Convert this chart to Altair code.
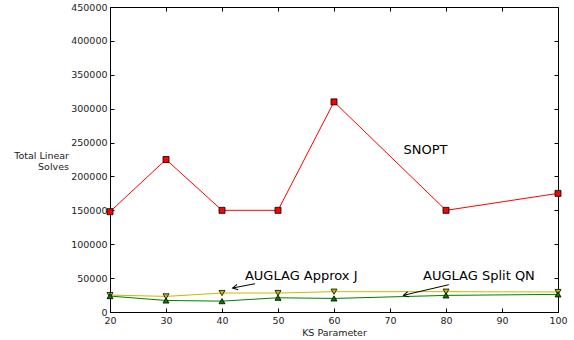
import math
import altair as alt
import pandas as pd

# ---- data ----
ks = [20, 30, 40, 50, 60, 80, 100]
snopt = [148000, 225000, 150000, 150000, 310000, 150000, 175000]
approx_j = [25000, 23000, 28000, 28000, 30000, 30000, 29500]
split_qn = [23500, 17000, 16000, 21000, 20000, 24500, 26000]

series_names = ["SNOPT", "AUGLAG Approx J", "AUGLAG Split QN"]
x_ticks = [20, 30, 40, 50, 60, 70, 80, 90, 100]
y_ticks = [0, 50000, 100000, 150000, 200000, 250000, 300000, 350000, 400000, 450000]

label_text = ["SNOPT", "AUGLAG Approx J", "AUGLAG Split QN"]
label_x = [72.4, 44.1, 75.9]
label_y = [233000, 47200, 47200]

arrow_tail_x = [45.9, 80.5]
arrow_tail_y = [41700, 40300]
arrow_head_x = [41.9, 72.4]
arrow_head_y = [35400, 24600]

# ---- styles ----
W, H = 448, 305
X_DOM = [20, 100]
Y_DOM = [0, 450000]
line_colors = ["#ff0000", "#bfbf00", "#008000"]
marker_shapes = ["square", "triangle-down", "triangle-up"]
FONT = "DejaVu Sans"

rows = []
for name, vals in zip(series_names, [snopt, approx_j, split_qn]):
    for k, v in zip(ks, vals):
        rows.append({"series": name, "ks": k, "solves": v})
df = pd.DataFrame(rows)

labels_df = pd.DataFrame({"text": label_text, "x": label_x, "y": label_y})

px_x = W / (X_DOM[1] - X_DOM[0])
px_y = H / (Y_DOM[1] - Y_DOM[0])
angles = []
for tx, ty, hx, hy in zip(arrow_tail_x, arrow_tail_y, arrow_head_x, arrow_head_y):
    dx = (hx - tx) * px_x
    dy = -(hy - ty) * px_y
    angles.append((math.degrees(math.atan2(dx, -dy)) + 360) % 360)
arrows_df = pd.DataFrame({"tx": arrow_tail_x, "ty": arrow_tail_y,
                          "hx": arrow_head_x, "hy": arrow_head_y, "ang": angles})

xs = alt.Scale(domain=X_DOM, nice=False, zero=False)
ys = alt.Scale(domain=Y_DOM, nice=False)
color_scale = alt.Scale(domain=series_names, range=line_colors)
shape_scale = alt.Scale(domain=series_names, range=marker_shapes)

main_x = alt.Axis(orient="bottom", values=x_ticks, tickSize=0, domain=False,
                  labelPadding=3, labelFlush=False, title="KS Parameter",
                  titlePadding=3, format="d",
                  labelFontWeight="normal", titleFontWeight="normal")
main_y = alt.Axis(orient="left", values=y_ticks, tickSize=0, domain=False,
                  labelPadding=3, labelFlush=False, format="d",
                  labelFontWeight="normal", titleFontWeight="normal",
                  title=["Total Linear", "Solves"], titleAngle=0,
                  titleAlign="right", titleBaseline="alphabetic",
                  titleX=-41.5, titleY=151.5, titleLineHeight=11)

base = alt.Chart(df)

lines = base.mark_line(strokeWidth=1).encode(
    x=alt.X("ks:Q", scale=xs, axis=main_x),
    y=alt.Y("solves:Q", scale=ys, axis=main_y),
    color=alt.Color("series:N", scale=color_scale, legend=None),
    detail="series:N",
)

points = base.mark_point(filled=True, stroke="black", strokeWidth=0.8,
                         size=36, opacity=1).encode(
    x=alt.X("ks:Q", scale=xs, axis=None),
    y=alt.Y("solves:Q", scale=ys, axis=None),
    fill=alt.Fill("series:N", scale=color_scale, legend=None),
    shape=alt.Shape("series:N", scale=shape_scale, legend=None),
)


def tick_layer(xorient, yorient):
    return base.mark_point(opacity=0).encode(
        x=alt.X("ks:Q", scale=xs,
                axis=alt.Axis(orient=xorient, offset=-H, values=x_ticks,
                              labels=False, domain=False, tickSize=4,
                              tickColor="black", title=None)),
        y=alt.Y("solves:Q", scale=ys,
                axis=alt.Axis(orient=yorient, offset=-W, values=y_ticks,
                              labels=False, domain=False, tickSize=4,
                              tickColor="black", title=None)),
    )


ticks_a = tick_layer("top", "right")     # bottom & left edges, pointing inward
ticks_b = tick_layer("bottom", "left")   # top & right edges, pointing inward

texts = alt.Chart(labels_df).mark_text(align="left", baseline="alphabetic",
                                        fontSize=13, font=FONT,
                                        color="black").encode(
    x=alt.X("x:Q", scale=xs, axis=None),
    y=alt.Y("y:Q", scale=ys, axis=None),
    text="text:N",
)

arrow_lines = alt.Chart(arrows_df).mark_rule(color="black", strokeWidth=1).encode(
    x=alt.X("tx:Q", scale=xs, axis=None),
    y=alt.Y("ty:Q", scale=ys, axis=None),
    x2="hx:Q",
    y2="hy:Q",
)

arrow_heads = alt.Chart(arrows_df).mark_point(
    shape="M -0.55 1 L 0 0 L 0.55 1", filled=False, stroke="black",
    strokeWidth=1, size=100, opacity=1).encode(
    x=alt.X("hx:Q", scale=xs, axis=None),
    y=alt.Y("hy:Q", scale=ys, axis=None),
    angle=alt.Angle("ang:Q", scale=None),
)

chart = alt.layer(
    lines, points, texts, arrow_lines, arrow_heads, ticks_a, ticks_b
).resolve_axis(x="independent", y="independent").properties(
    width=W, height=H,
    autosize=alt.AutoSizeParams(type="none"),
    padding={"left": 110, "top": 7, "right": 16, "bottom": 28},
    background="white",
).configure_view(
    stroke="black", strokeWidth=1
).configure_axis(
    labelFont=FONT, titleFont=FONT, labelFontSize=9.5, titleFontSize=9.5,
    labelColor="#222222", titleColor="#222222", titleFontWeight="normal",
    labelFontWeight="normal", grid=False,
)

chart.save("out.html", embed_options={"renderer": "svg", "actions": False})
